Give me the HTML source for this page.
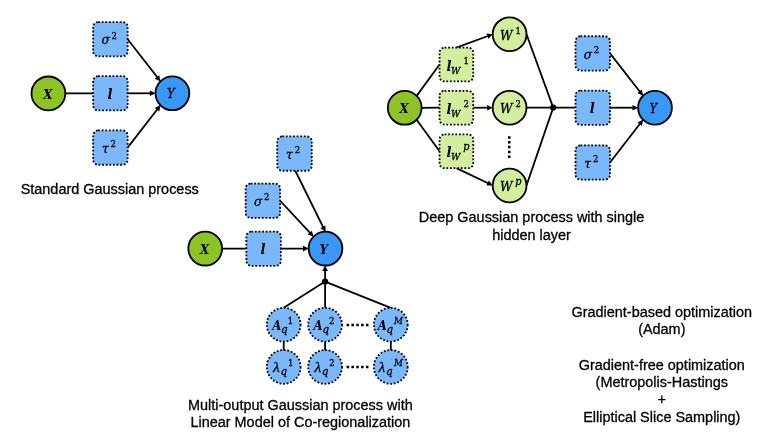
<!DOCTYPE html>
<html><head><meta charset="utf-8"><title>Gaussian process models</title>
<style>html,body{margin:0;padding:0;background:#fff;}body{width:768px;height:448px;overflow:hidden;}svg{display:block;}</style>
</head><body>
<svg width="768" height="448" viewBox="0 0 768 448">
<rect width="768" height="448" fill="#fff"/>
<line x1="65.3" y1="93.4" x2="93.15" y2="93.3" stroke="#000" stroke-width="1.8"/>
<line x1="127.65" y1="39.2" x2="157.33" y2="77.31" stroke="#000" stroke-width="1.8"/>
<polygon points="160.59,81.49 154.82,78.64 159.24,75.19" fill="#000"/>
<line x1="127.65" y1="93.3" x2="150.4" y2="93.3" stroke="#000" stroke-width="1.8"/>
<polygon points="155.7,93.3 149.9,96.1 149.9,90.5" fill="#000"/>
<line x1="127.65" y1="147.6" x2="157.34" y2="109.3" stroke="#000" stroke-width="1.8"/>
<polygon points="160.59,105.11 159.25,111.41 154.82,107.98" fill="#000"/>
<circle cx="48.4" cy="93.4" r="16.9" fill="#8ec326" stroke="#000" stroke-width="1.8"/>
<circle cx="172.4" cy="93.3" r="16.9" fill="#3897f7" stroke="#000" stroke-width="1.8"/>
<rect x="93.15" y="22.05" width="34.5" height="34.3" rx="5" fill="#7ab8fb" stroke="#000" stroke-width="1.8" stroke-dasharray="1.8 1.8"/>
<rect x="93.15" y="76.15" width="34.5" height="34.3" rx="5" fill="#7ab8fb" stroke="#000" stroke-width="1.8" stroke-dasharray="1.8 1.8"/>
<rect x="93.15" y="130.45" width="34.5" height="34.3" rx="5" fill="#7ab8fb" stroke="#000" stroke-width="1.8" stroke-dasharray="1.8 1.8"/>
<line x1="222.1" y1="248.6" x2="246.35" y2="248.7" stroke="#000" stroke-width="1.8"/>
<line x1="280.85" y1="248.7" x2="303.5" y2="248.62" stroke="#000" stroke-width="1.8"/>
<polygon points="308.8,248.6 303.01,251.42 302.99,245.82" fill="#000"/>
<line x1="280.15" y1="200.75" x2="310.08" y2="232.91" stroke="#000" stroke-width="1.8"/>
<polygon points="313.69,236.79 307.69,234.45 311.79,230.64" fill="#000"/>
<line x1="295.3" y1="170.75" x2="323.15" y2="227.15" stroke="#000" stroke-width="1.8"/>
<polygon points="325.5,231.9 320.42,227.94 325.44,225.46" fill="#000"/>
<line x1="325.1" y1="281.6" x2="325.1" y2="270.6" stroke="#000" stroke-width="1.8"/>
<polygon points="325.1,265.3 327.9,271.1 322.3,271.1" fill="#000"/>
<line x1="325.1" y1="281.6" x2="283.7" y2="307.8" stroke="#000" stroke-width="1.8"/>
<line x1="283.7" y1="341.6" x2="283.7" y2="350" stroke="#000" stroke-width="1.8"/>
<line x1="325.1" y1="281.6" x2="325.1" y2="307.8" stroke="#000" stroke-width="1.8"/>
<line x1="325.1" y1="341.6" x2="325.1" y2="350" stroke="#000" stroke-width="1.8"/>
<line x1="325.1" y1="281.6" x2="390.8" y2="307.8" stroke="#000" stroke-width="1.8"/>
<line x1="390.8" y1="341.6" x2="390.8" y2="350" stroke="#000" stroke-width="1.8"/>
<circle cx="325.1" cy="281.6" r="3.15" fill="#000"/>
<circle cx="205.2" cy="248.6" r="16.9" fill="#8ec326" stroke="#000" stroke-width="1.8"/>
<circle cx="325.5" cy="248.6" r="16.9" fill="#3897f7" stroke="#000" stroke-width="1.8"/>
<rect x="277.25" y="136.45" width="34.5" height="34.3" rx="5" fill="#7ab8fb" stroke="#000" stroke-width="1.8" stroke-dasharray="1.8 1.8"/>
<rect x="245.65" y="183.6" width="34.5" height="34.3" rx="5" fill="#7ab8fb" stroke="#000" stroke-width="1.8" stroke-dasharray="1.8 1.8"/>
<rect x="246.35" y="231.55" width="34.5" height="34.3" rx="5" fill="#7ab8fb" stroke="#000" stroke-width="1.8" stroke-dasharray="1.8 1.8"/>
<circle cx="283.7" cy="324.7" r="16.9" fill="#7ab8fb" stroke="#000" stroke-width="1.8" stroke-dasharray="1.8 1.8"/>
<circle cx="283.7" cy="366.9" r="16.9" fill="#7ab8fb" stroke="#000" stroke-width="1.8" stroke-dasharray="1.8 1.8"/>
<circle cx="325.1" cy="324.7" r="16.9" fill="#7ab8fb" stroke="#000" stroke-width="1.8" stroke-dasharray="1.8 1.8"/>
<circle cx="325.1" cy="366.9" r="16.9" fill="#7ab8fb" stroke="#000" stroke-width="1.8" stroke-dasharray="1.8 1.8"/>
<circle cx="390.8" cy="324.7" r="16.9" fill="#7ab8fb" stroke="#000" stroke-width="1.8" stroke-dasharray="1.8 1.8"/>
<circle cx="390.8" cy="366.9" r="16.9" fill="#7ab8fb" stroke="#000" stroke-width="1.8" stroke-dasharray="1.8 1.8"/>
<line x1="346.6" y1="324.9" x2="368.6" y2="324.9" stroke="#000" stroke-width="2.5" stroke-dasharray="2.5 2.34"/>
<line x1="346.6" y1="367.09999999999997" x2="368.6" y2="367.09999999999997" stroke="#000" stroke-width="2.5" stroke-dasharray="2.5 2.34"/>
<line x1="416.65" y1="95.85" x2="439.55" y2="64.5" stroke="#000" stroke-width="1.8"/>
<line x1="421.6" y1="107.8" x2="439.55" y2="107.7" stroke="#000" stroke-width="1.8"/>
<line x1="416.65" y1="119.75" x2="439.55" y2="151.3" stroke="#000" stroke-width="1.8"/>
<line x1="456.4" y1="47.65" x2="487.93" y2="36.03" stroke="#000" stroke-width="1.8"/>
<polygon points="492.9,34.2 488.43,38.83 486.49,33.58" fill="#000"/>
<line x1="473.25" y1="107.7" x2="487.6" y2="107.7" stroke="#000" stroke-width="1.8"/>
<polygon points="492.9,107.7 487.1,110.5 487.1,104.9" fill="#000"/>
<line x1="456.4" y1="168.15" x2="488.11" y2="183.22" stroke="#000" stroke-width="1.8"/>
<polygon points="492.9,185.5 486.46,185.54 488.86,180.48" fill="#000"/>
<line x1="526.5" y1="34.2" x2="553.2" y2="107.6" stroke="#000" stroke-width="1.8"/>
<line x1="526.5" y1="107.7" x2="575.5" y2="107.7" stroke="#000" stroke-width="1.8"/>
<line x1="526.5" y1="185.5" x2="553.2" y2="107.6" stroke="#000" stroke-width="1.8"/>
<circle cx="553.2" cy="107.6" r="3.15" fill="#000"/>
<line x1="610" y1="53.4" x2="639.93" y2="91.71" stroke="#000" stroke-width="1.8"/>
<polygon points="643.19,95.89 637.41,93.04 641.83,89.6" fill="#000"/>
<line x1="610" y1="107.7" x2="633" y2="107.7" stroke="#000" stroke-width="1.8"/>
<polygon points="638.3,107.7 632.5,110.5 632.5,104.9" fill="#000"/>
<line x1="610" y1="162.5" x2="639.95" y2="123.7" stroke="#000" stroke-width="1.8"/>
<polygon points="643.19,119.51 641.86,125.81 637.43,122.39" fill="#000"/>
<circle cx="404.7" cy="107.8" r="16.9" fill="#8ec326" stroke="#000" stroke-width="1.8"/>
<circle cx="655" cy="107.7" r="16.9" fill="#3897f7" stroke="#000" stroke-width="1.8"/>
<circle cx="509.6" cy="34.2" r="16.9" fill="#d2ee9e" stroke="#000" stroke-width="1.8"/>
<circle cx="509.6" cy="107.7" r="16.9" fill="#d2ee9e" stroke="#000" stroke-width="1.8"/>
<circle cx="509.6" cy="185.5" r="16.9" fill="#d2ee9e" stroke="#000" stroke-width="1.8"/>
<rect x="439.55" y="47.65" width="33.7" height="33.7" rx="5" fill="#d2ee9e" stroke="#000" stroke-width="1.8" stroke-dasharray="1.8 1.8"/>
<rect x="439.55" y="90.85" width="33.7" height="33.7" rx="5" fill="#d2ee9e" stroke="#000" stroke-width="1.8" stroke-dasharray="1.8 1.8"/>
<rect x="439.55" y="134.45" width="33.7" height="33.7" rx="5" fill="#d2ee9e" stroke="#000" stroke-width="1.8" stroke-dasharray="1.8 1.8"/>
<rect x="575.5" y="36.25" width="34.5" height="34.3" rx="5" fill="#7ab8fb" stroke="#000" stroke-width="1.8" stroke-dasharray="1.8 1.8"/>
<rect x="575.5" y="90.55" width="34.5" height="34.3" rx="5" fill="#7ab8fb" stroke="#000" stroke-width="1.8" stroke-dasharray="1.8 1.8"/>
<rect x="575.5" y="145.35" width="34.5" height="34.3" rx="5" fill="#7ab8fb" stroke="#000" stroke-width="1.8" stroke-dasharray="1.8 1.8"/>
<line x1="509.25" y1="136.15" x2="509.25" y2="158.1" stroke="#000" stroke-width="2.5" stroke-dasharray="2.5 2.34"/>
<g fill="#000" style="filter:grayscale(1)">
<text font-family="'DejaVu Serif','Liberation Serif',serif" font-stretch="condensed"><tspan x="43.2" y="98.5" font-size="13.2" font-style="italic" font-weight="bold">X</tspan></text>
<text font-family="'DejaVu Serif','Liberation Serif',serif" font-stretch="condensed"><tspan x="167" y="98.2" font-size="12.8" font-style="italic" stroke="#000" stroke-width="0.3">Y</tspan></text>
<text font-family="'DejaVu Serif','Liberation Serif',serif" font-stretch="condensed"><tspan x="101.5" y="44.3" font-size="13.5" font-style="italic" stroke="#000" stroke-width="0.3">σ</tspan><tspan x="111.4" y="38.9" font-size="9.4" stroke="#000" stroke-width="0.3">2</tspan></text>
<text font-family="'DejaVu Serif','Liberation Serif',serif" font-stretch="condensed"><tspan x="107.4" y="98.6" font-size="14.6" font-style="italic" font-weight="bold">l</tspan></text>
<text font-family="'DejaVu Serif','Liberation Serif',serif" font-stretch="condensed"><tspan x="102" y="152.9" font-size="13.5" font-style="italic" stroke="#000" stroke-width="0.3">τ</tspan><tspan x="110.6" y="147.2" font-size="9.4" stroke="#000" stroke-width="0.3">2</tspan></text>
<text x="109.75" y="193.9" text-anchor="middle" font-family="'Liberation Sans',sans-serif" font-size="14.45" stroke="#000" stroke-width="0.3">Standard Gaussian process</text>
<text font-family="'DejaVu Serif','Liberation Serif',serif" font-stretch="condensed"><tspan x="200" y="253.7" font-size="13.2" font-style="italic" font-weight="bold">X</tspan></text>
<text font-family="'DejaVu Serif','Liberation Serif',serif" font-stretch="condensed"><tspan x="319.6" y="253.7" font-size="13.2" font-style="italic" font-weight="bold">Y</tspan></text>
<text font-family="'DejaVu Serif','Liberation Serif',serif" font-stretch="condensed"><tspan x="286.1" y="158.9" font-size="13.5" font-style="italic" stroke="#000" stroke-width="0.3">τ</tspan><tspan x="294.7" y="153.2" font-size="9.4" stroke="#000" stroke-width="0.3">2</tspan></text>
<text font-family="'DejaVu Serif','Liberation Serif',serif" font-stretch="condensed"><tspan x="254" y="205.85" font-size="13.5" font-style="italic" stroke="#000" stroke-width="0.3">σ</tspan><tspan x="263.9" y="200.45" font-size="9.4" stroke="#000" stroke-width="0.3">2</tspan></text>
<text font-family="'DejaVu Serif','Liberation Serif',serif" font-stretch="condensed"><tspan x="260.6" y="254" font-size="14.6" font-style="italic" font-weight="bold">l</tspan></text>
<text font-family="'DejaVu Serif','Liberation Serif',serif" font-stretch="condensed"><tspan x="272.2" y="329.75" font-size="13" font-style="italic" font-weight="bold">A</tspan><tspan x="281.1" y="332.5" font-size="11.5" font-style="italic" stroke="#000" stroke-width="0.3">q</tspan><tspan x="287.7" y="323.7" font-size="9.4" stroke="#000" stroke-width="0.3">1</tspan></text>
<text font-family="'DejaVu Serif','Liberation Serif',serif" font-stretch="condensed"><tspan font-family="'Liberation Serif',serif" font-stretch="normal"><tspan x="273" y="372.4" font-size="15.5" font-style="italic" stroke="#000" stroke-width="0.3">λ</tspan></tspan><tspan x="280.4" y="375" font-size="11.5" font-style="italic" stroke="#000" stroke-width="0.3">q</tspan><tspan x="287.95" y="365.8" font-size="9.4" stroke="#000" stroke-width="0.3">1</tspan></text>
<text font-family="'DejaVu Serif','Liberation Serif',serif" font-stretch="condensed"><tspan x="313.6" y="329.75" font-size="13" font-style="italic" font-weight="bold">A</tspan><tspan x="322.5" y="332.5" font-size="11.5" font-style="italic" stroke="#000" stroke-width="0.3">q</tspan><tspan x="329.1" y="323.7" font-size="9.4" stroke="#000" stroke-width="0.3">2</tspan></text>
<text font-family="'DejaVu Serif','Liberation Serif',serif" font-stretch="condensed"><tspan font-family="'Liberation Serif',serif" font-stretch="normal"><tspan x="314.4" y="372.4" font-size="15.5" font-style="italic" stroke="#000" stroke-width="0.3">λ</tspan></tspan><tspan x="321.8" y="375" font-size="11.5" font-style="italic" stroke="#000" stroke-width="0.3">q</tspan><tspan x="329.35" y="365.8" font-size="9.4" stroke="#000" stroke-width="0.3">2</tspan></text>
<text font-family="'DejaVu Serif','Liberation Serif',serif" font-stretch="condensed"><tspan x="377.7" y="329.75" font-size="13" font-style="italic" font-weight="bold">A</tspan><tspan x="386.6" y="332.5" font-size="11.5" font-style="italic" stroke="#000" stroke-width="0.3">q</tspan><tspan x="394.1" y="323.7" font-size="9.7" font-style="italic" stroke="#000" stroke-width="0.3">M</tspan></text>
<text font-family="'DejaVu Serif','Liberation Serif',serif" font-stretch="condensed"><tspan font-family="'Liberation Serif',serif" font-stretch="normal"><tspan x="378.5" y="372.4" font-size="15.5" font-style="italic" stroke="#000" stroke-width="0.3">λ</tspan></tspan><tspan x="385.9" y="375" font-size="11.5" font-style="italic" stroke="#000" stroke-width="0.3">q</tspan><tspan x="394.1" y="365.8" font-size="9.7" font-style="italic" stroke="#000" stroke-width="0.3">M</tspan></text>
<text x="300.4" y="409.6" text-anchor="middle" font-family="'Liberation Sans',sans-serif" font-size="14.45" stroke="#000" stroke-width="0.3">Multi-output Gaussian process with</text>
<text x="300.4" y="427.1" text-anchor="middle" font-family="'Liberation Sans',sans-serif" font-size="14.45" stroke="#000" stroke-width="0.3">Linear Model of Co-regionalization</text>
<text font-family="'DejaVu Serif','Liberation Serif',serif" font-stretch="condensed"><tspan x="399.5" y="112.9" font-size="13.2" font-style="italic" font-weight="bold">X</tspan></text>
<text font-family="'DejaVu Serif','Liberation Serif',serif" font-stretch="condensed"><tspan x="649.6" y="112.6" font-size="12.8" font-style="italic" stroke="#000" stroke-width="0.3">Y</tspan></text>
<text font-family="'DejaVu Serif','Liberation Serif',serif" font-stretch="condensed"><tspan x="500.05" y="39.7" font-size="13.5" font-style="italic" stroke="#000" stroke-width="0.3">W</tspan><tspan x="515.6" y="33.9" font-size="9.4" stroke="#000" stroke-width="0.3">1</tspan></text>
<text font-family="'DejaVu Serif','Liberation Serif',serif" font-stretch="condensed"><tspan x="500.05" y="113.2" font-size="13.5" font-style="italic" stroke="#000" stroke-width="0.3">W</tspan><tspan x="515.6" y="107.4" font-size="9.4" stroke="#000" stroke-width="0.3">2</tspan></text>
<text font-family="'DejaVu Serif','Liberation Serif',serif" font-stretch="condensed"><tspan x="500.05" y="191" font-size="13.5" font-style="italic" stroke="#000" stroke-width="0.3">W</tspan><tspan x="515.3" y="185.2" font-size="10.7" font-style="italic" stroke="#000" stroke-width="0.3">p</tspan></text>
<text font-family="'DejaVu Serif','Liberation Serif',serif" font-stretch="condensed"><tspan x="446.6" y="70.5" font-size="14.6" font-style="italic" font-weight="bold">l</tspan><tspan x="451" y="73.5" font-size="10" font-style="italic" stroke="#000" stroke-width="0.3">W</tspan><tspan x="463.5" y="63.5" font-size="9.4" stroke="#000" stroke-width="0.3">1</tspan></text>
<text font-family="'DejaVu Serif','Liberation Serif',serif" font-stretch="condensed"><tspan x="446.6" y="113.7" font-size="14.6" font-style="italic" font-weight="bold">l</tspan><tspan x="451" y="116.7" font-size="10" font-style="italic" stroke="#000" stroke-width="0.3">W</tspan><tspan x="463.5" y="106.7" font-size="9.4" stroke="#000" stroke-width="0.3">2</tspan></text>
<text font-family="'DejaVu Serif','Liberation Serif',serif" font-stretch="condensed"><tspan x="446.6" y="157.3" font-size="14.6" font-style="italic" font-weight="bold">l</tspan><tspan x="451" y="160.3" font-size="10" font-style="italic" stroke="#000" stroke-width="0.3">W</tspan><tspan x="463.2" y="150.3" font-size="10.7" font-style="italic" stroke="#000" stroke-width="0.3">p</tspan></text>
<text font-family="'DejaVu Serif','Liberation Serif',serif" font-stretch="condensed"><tspan x="583.85" y="58.5" font-size="13.5" font-style="italic" stroke="#000" stroke-width="0.3">σ</tspan><tspan x="593.75" y="53.1" font-size="9.4" stroke="#000" stroke-width="0.3">2</tspan></text>
<text font-family="'DejaVu Serif','Liberation Serif',serif" font-stretch="condensed"><tspan x="589.75" y="113" font-size="14.6" font-style="italic" font-weight="bold">l</tspan></text>
<text font-family="'DejaVu Serif','Liberation Serif',serif" font-stretch="condensed"><tspan x="584.35" y="167.8" font-size="13.5" font-style="italic" stroke="#000" stroke-width="0.3">τ</tspan><tspan x="592.95" y="162.1" font-size="9.4" stroke="#000" stroke-width="0.3">2</tspan></text>
<text x="531.6" y="221.9" text-anchor="middle" font-family="'Liberation Sans',sans-serif" font-size="14.45" stroke="#000" stroke-width="0.3">Deep Gaussian process with single</text>
<text x="531.6" y="240.4" text-anchor="middle" font-family="'Liberation Sans',sans-serif" font-size="14.45" stroke="#000" stroke-width="0.3">hidden layer</text>
<text x="661.8" y="317.3" text-anchor="middle" font-family="'Liberation Sans',sans-serif" font-size="14.45" stroke="#000" stroke-width="0.3">Gradient-based optimization</text>
<text x="661.8" y="334.4" text-anchor="middle" font-family="'Liberation Sans',sans-serif" font-size="14.45" stroke="#000" stroke-width="0.3">(Adam)</text>
<text x="661.8" y="370" text-anchor="middle" font-family="'Liberation Sans',sans-serif" font-size="14.45" stroke="#000" stroke-width="0.3">Gradient-free optimization</text>
<text x="661.8" y="387.2" text-anchor="middle" font-family="'Liberation Sans',sans-serif" font-size="14.45" stroke="#000" stroke-width="0.3">(Metropolis-Hastings</text>
<text x="661.8" y="403.8" text-anchor="middle" font-family="'Liberation Sans',sans-serif" font-size="14.45" stroke="#000" stroke-width="0.3">+</text>
<text x="661.8" y="422.4" text-anchor="middle" font-family="'Liberation Sans',sans-serif" font-size="14.45" stroke="#000" stroke-width="0.3">Elliptical Slice Sampling)</text>
</g>
</svg>
</body></html>
